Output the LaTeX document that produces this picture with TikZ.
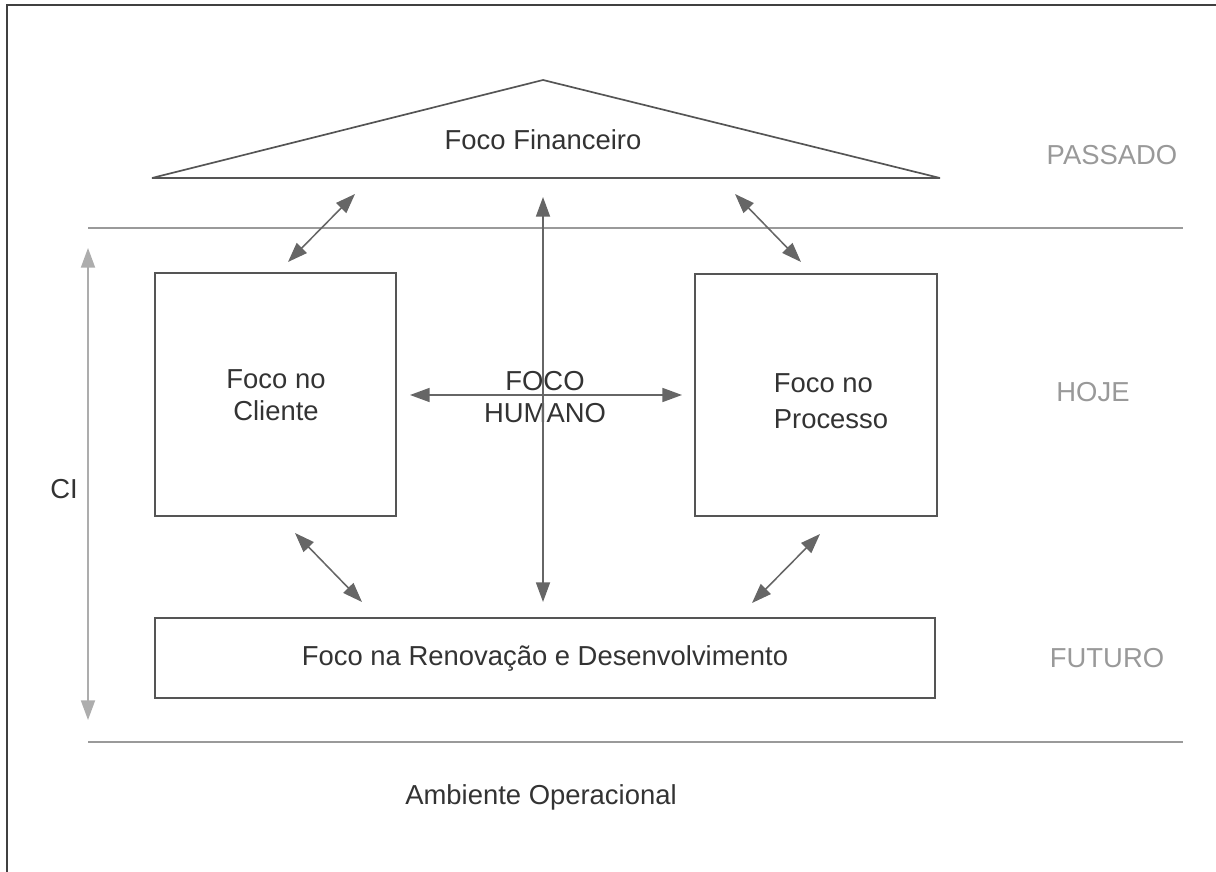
\documentclass[tikz,border=0pt]{standalone}
\usepackage{fontspec}
\setmainfont{Liberation Sans}
\usepackage{xcolor}
\usepackage{tikz}
\usetikzlibrary{calc, positioning, arrows.meta}

\definecolor{boxgray}{HTML}{555555}
\definecolor{arrowgray}{HTML}{666666}
\definecolor{linegray}{HTML}{9A9A9A}
\definecolor{labelgray}{HTML}{999999}
\definecolor{textgray}{HTML}{333333}

\begin{document}
\begin{tikzpicture}[
  % pixel grid of the reference, y downwards
  x=0.025cm,
  y=-0.025cm,
  font=\fontsize{19.5}{23}\selectfont,
  focobox/.style={draw=boxgray, line width=1.4pt, inner sep=0pt},
  focotext/.style={text=textgray, align=center},
  eralabel/.style={text=labelgray},
  twoway/.style={draw=arrowgray, line width=1.1pt,
    {Triangle[length=14pt, width=10pt]}-{Triangle[length=14pt, width=10pt]}},
  ruler/.style={draw=linegray, line width=1pt}
]
  \useasboundingbox (0,0) rectangle (1216,872);

  % Frame (top and left edge only)
  \draw[line width=2pt, draw=black!75] (7,872) -- (7,5) -- (1216,5);

  % Era separators
  \draw[ruler] (88,228) -- (1183,228);
  \draw[ruler] (88,742) -- (1183,742);

  % Roof
  \draw[draw=boxgray, line width=1.2pt, line join=bevel]
    (152,178) -- (543,80) -- (940,178) -- cycle;
  \node[focotext] (fin) at (543,140) {Foco Financeiro};

  % Pillars and base
  \node[focobox, minimum width=6.025cm, minimum height=6.075cm] (cli) at (275.5,394.5) {};
  \node[focotext] (clitext) at (276,395) {Foco no\\Cliente};
  \node[focobox, minimum width=6.05cm, minimum height=6.05cm] (proc) at (816,395) {};
  \node[focotext, align=left] (proctext) at (831,401) {Foco no\\[3pt]Processo};
  \node[focobox, minimum width=19.5cm, minimum height=2cm] (ren) at (545,658) {};
  \node[focotext] (rentext) at (ren.center) {Foco na Renovação e Desenvolvimento};

  \node[focotext] (hum) at (545,397) {FOCO\\HUMANO};

  % Arrow end points
  \coordinate (finS) at (543,197);
  \coordinate (renN) at (543,602);
  \coordinate (cliE) at (410,395);
  \coordinate (procW) at (682,395);
  \coordinate (finSW) at (355,194);
  \coordinate (cliNE) at (288,262);
  \coordinate (finSE) at (735,194);
  \coordinate (procNW) at (801,262);
  \coordinate (cliSE) at (295,533);
  \coordinate (renNW) at (362,602);
  \coordinate (procSW) at (820,534);
  \coordinate (renNE) at (752,603);

  \draw[twoway] (finS) -- (renN);
  \draw[twoway] (cliE) -- (procW);
  \draw[twoway] (finSW) -- (cliNE);
  \draw[twoway] (finSE) -- (procNW);
  \draw[twoway] (cliSE) -- (renNW);
  \draw[twoway] (procSW) -- (renNE);

  % CI span
  \coordinate (ciTop) at (88,248);
  \coordinate (ciBot) at (88,720);
  \draw[draw=labelgray!80, line width=1.2pt,
    {Triangle[length=14pt, width=10pt]}-{Triangle[length=14pt, width=10pt]}] (ciTop) -- (ciBot);
  \node[focotext] (ci) at (64,489) {CI};

  % Eras
  \node[eralabel] (passado) at (1112,155) {PASSADO};
  \node[eralabel] (hoje) at (1093,392) {HOJE};
  \node[eralabel] (futuro) at (1107,658) {FUTURO};

  \node[focotext] (amb) at (541,797) {Ambiente Operacional};
\end{tikzpicture}
\end{document}
